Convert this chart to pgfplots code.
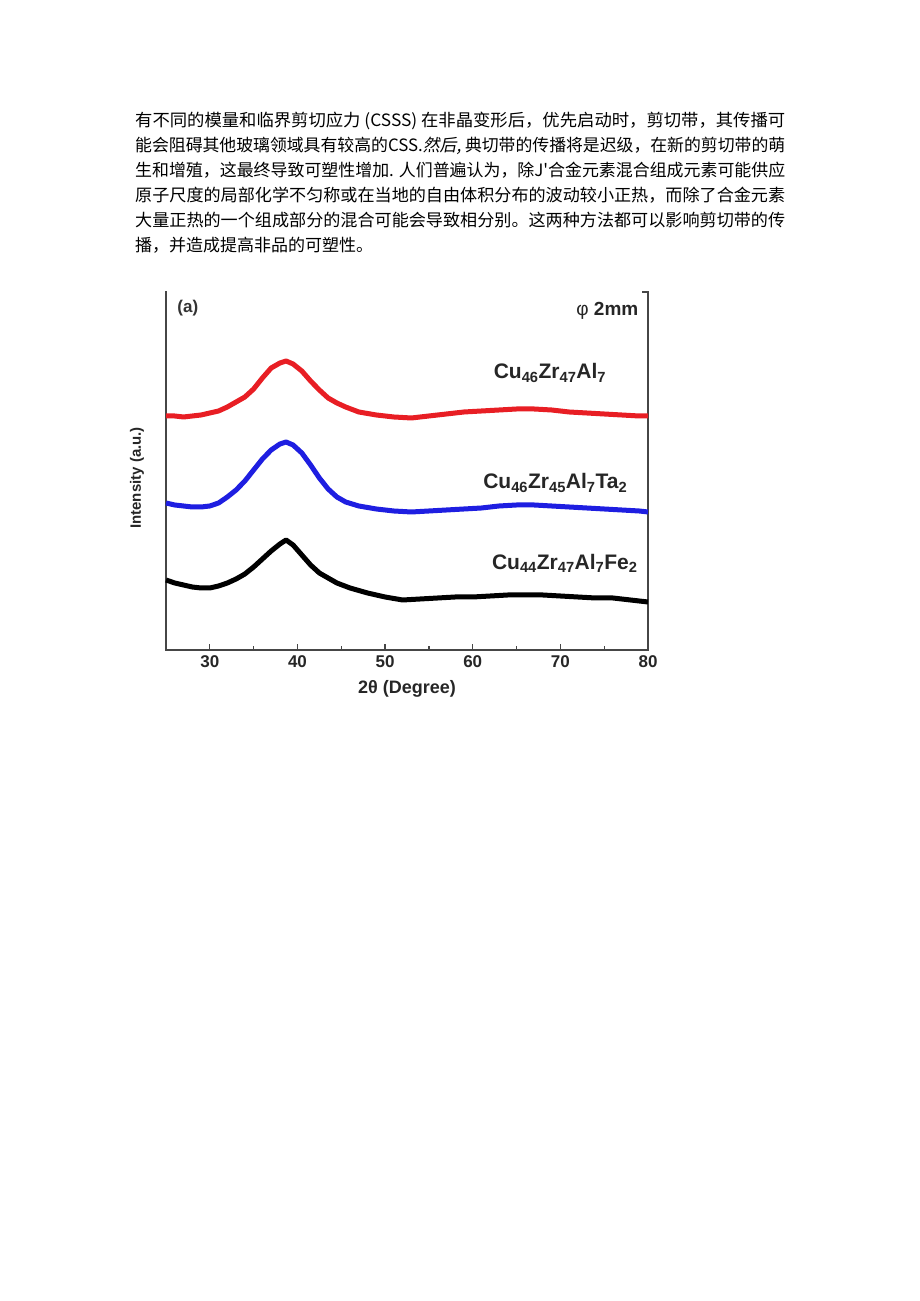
\documentclass[border=0pt]{standalone}
\usepackage{pgfplots}
\pgfplotsset{compat=1.18}
\usepackage{fontspec}
\usepackage{graphicx}
\setmainfont{Liberation Sans}
\newfontfamily\cjk{Noto Sans CJK SC}
\newfontfamily\cjkit[FakeSlant=0.2]{Noto Sans CJK SC}
\definecolor{redc}{RGB}{232,30,36}
\definecolor{bluec}{RGB}{30,30,225}
\definecolor{axc}{RGB}{70,70,70}

\pgfplotstableread{
x y
25 416
26 416
27 417
28 416
29 415
30 413
31 411
32 407
33 402
34 397
35 389
36 378
37 368
38 363
38.7 361
39.5 364
40.5 371
41.5 381
42.5 390
43.5 398
44.5 403
45.5 407
47 412
49 415
51 417
53 418
55 416
57 414
59 412
61 411
63 410
65 409
67 409
69 410
71 412
73 413
75 414
77 415
79 416
80 416
}\redtab

\pgfplotstableread{
x y
25 503
26 505
27 506
28 507
29 507
30 506
31 503
32 497
33 490
34 481
35 470
36 459
37 450
38 444
38.7 442
39.5 445
40.5 453
41.5 465
42.5 478
43.5 489
44.5 497
45.5 502
47 506
49 509
51 511
53 512
55 511
57 510
59 509
61 508
63 506
65 505
67 505
69 506
71 507
73 508
75 509
77 510
79 511
80 512
}\bluetab

\pgfplotstableread{
x y
25 580
26 583
27 585
28 587
29 588
30 588
31 586
32 583
33 579
34 574
35 567
36 559
37 551
38 544
38.7 540
39.5 545
40.5 555
41.5 565
42.5 573
43.5 578
44.5 583
46 588
48 593
50 597
52 600
54 599
56 598
58 597
60 597
62 596
64 595
66 595
68 595
70 596
72 597
74 598
76 598
78 600
80 602
}\blacktab

\begin{document}
\begin{tikzpicture}
\path[use as bounding box, fill=white] (0,0) rectangle (920pt,1301pt);
% text block
\begin{scope}[every node/.style={inner sep=0pt, anchor=base west, font=\cjk\fontsize{17}{17}\selectfont}]
\node at (135pt,1174pt) {\resizebox{650pt}{\height}{有不同的模量和临界剪切应力 (CSSS) 在非晶变形后，优先启动时，剪切带，其传播可}};
\node at (135pt,1149pt) {\resizebox{650pt}{\height}{能会阻碍其他玻璃领域具有较高的CSS.{\cjkit 然后,} 典切带的传播将是迟级，在新的剪切带的萌}};
\node at (135pt,1124pt) {\resizebox{650pt}{\height}{生和增殖，这最终导致可塑性增加. 人们普遍认为，除J'合金元素混合组成元素可能供应}};
\node at (135pt,1099pt) {\resizebox{650pt}{\height}{原子尺度的局部化学不匀称或在当地的自由体积分布的波动较小正热，而除了合金元素}};
\node at (135pt,1074pt) {\resizebox{650pt}{\height}{大量正热的一个组成部分的混合可能会导致相分别。这两种方法都可以影响剪切带的传}};
\node at (135pt,1049pt) {播，并造成提高非品的可塑性。};
\end{scope}

\begin{axis}[
  at={(166pt,651pt)}, anchor=south west,
  width=482pt, height=358pt, scale only axis,
  xmin=25, xmax=80, ymin=0, ymax=358,
  y filter/.code={\pgfmathparse{650-\pgfmathresult}},
  axis line style={draw=none},
  xtick={30,40,...,80}, minor xtick={35,45,...,75},
  xtick pos=bottom, ytick=\empty,
  tick align=inside,
  major tick length=6pt, minor tick length=4pt,
  every tick/.style={axc, line width=1.2pt},
  /pgf/number format/assume math mode=true,
  ticklabel style={font=\bfseries\fontsize{17}{17}\selectfont, text=black!85},
  xticklabel style={yshift=-2pt},
  xlabel={2θ (Degree)},
  xlabel style={font=\bfseries\fontsize{18}{18}\selectfont, text=black!85, yshift=-6pt},
  clip=false,
]
\draw[axc, line width=1.2pt, line cap=rect] (rel axis cs:0,1) -- (rel axis cs:0,0) -- (rel axis cs:1,0) -- (rel axis cs:1,1) -- (rel axis cs:0.988,1);
\addplot[redc, line width=5pt, line join=round] table[x=x,y=y]{\redtab};
\addplot[bluec, line width=5pt, line join=round] table[x=x,y=y]{\bluetab};
\addplot[black, line width=5pt, line join=round] table[x=x,y=y]{\blacktab};
\node[anchor=west, font=\bfseries\fontsize{17}{17}\selectfont, text=black!80] at (axis cs:25.9,342) {(a)};
\node[anchor=east, font=\bfseries\fontsize{19}{19}\selectfont, text=black!85] at (axis cs:79.3,339) {{\mdseries φ} 2mm};
\node[anchor=west, font=\bfseries\fontsize{21}{21}\selectfont, text=black!85] at (axis cs:62.0,277) {Cu\textsubscript{46}Zr\textsubscript{47}Al\textsubscript{7}};
\node[anchor=west, font=\bfseries\fontsize{21}{21}\selectfont, text=black!85] at (axis cs:60.8,167) {Cu\textsubscript{46}Zr\textsubscript{45}Al\textsubscript{7}Ta\textsubscript{2}};
\node[anchor=west, font=\bfseries\fontsize{21}{21}\selectfont, text=black!85] at (axis cs:61.8,87) {Cu\textsubscript{44}Zr\textsubscript{47}Al\textsubscript{7}Fe\textsubscript{2}};
\end{axis}
\node[rotate=90, font=\bfseries\fontsize{15}{15}\selectfont, text=black!85] at (137pt,1301pt-478pt) {Intensity (a.u.)};
\end{tikzpicture}
\end{document}
